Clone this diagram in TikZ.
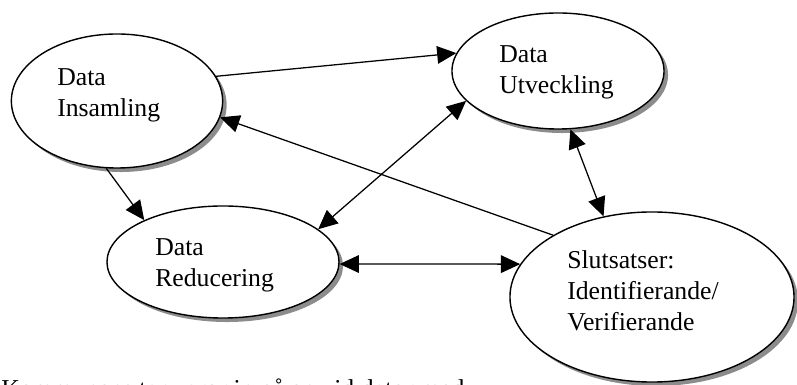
\documentclass[tikz,border=0pt]{standalone}
\usepackage{fontspec}
\setmainfont{Liberation Serif}
\usetikzlibrary{shapes.geometric,arrows.meta,shadows}

\begin{document}
\begin{tikzpicture}[x=0.025cm,y=-0.025cm,
    >={Triangle[length=0.48cm,width=0.44cm]},
    bubble/.style={ellipse,draw,line width=1pt,fill=white,inner sep=0pt,
      drop shadow={shadow xshift=0.1cm,shadow yshift=-0.1cm,opacity=1,fill=black!45}},
    caption/.style={anchor=north west,inner sep=0pt,align=left,
      font=\fontsize{18.3}{22}\selectfont},
    link/.style={line width=0.9pt}]
  % page is 797 x 385 px, 1px = 0.025cm, y runs down
  \clip (0,0) rectangle (797,385);

  % the four ellipses
  \node[bubble,minimum width=5.28cm,minimum height=3.35cm] (insamling) at (117,101) {};
  \node[bubble,minimum width=5.3cm,minimum height=2.9cm] (utveckling) at (558,71) {};
  \node[bubble,minimum width=5.8cm,minimum height=2.8cm] (reducering) at (223,262) {};
  \node[bubble,minimum width=7.1cm,minimum height=4.25cm] (slutsatser) at (652,297) {};

  % texts, set to the left in each ellipse
  \node[caption] (insamling-txt) at (57,68) {Data\\Insamling};
  \node[caption] (utveckling-txt) at (499,45) {Data\\Utveckling};
  \node[caption] (reducering-txt) at (155,238) {Data\\Reducering};
  \node[caption] (slutsatser-txt) at (567,250) {Slutsatser:\\Identifierande/\\Verifierande};

  % one-way arrows
  \draw[link,->] (insamling.14) -- (utveckling.170);
  \draw[link,->] (slutsatser.148) -- (insamling.-9);
  \draw[link,->] (insamling.-99) -- (reducering.152);
  % two-way arrows
  \draw[link,<->] (reducering.-1) -- (slutsatser.166);
  \draw[link,<->] (reducering.19) -- (utveckling.198);
  \draw[link,<->] (utveckling.-78) -- (slutsatser.121);

  % line of text cut off by the lower edge
  \node[caption,anchor=base west] (kommentar) at (1,398) {Kommunens tar varor in på en vid dator med};
\end{tikzpicture}
\end{document}
